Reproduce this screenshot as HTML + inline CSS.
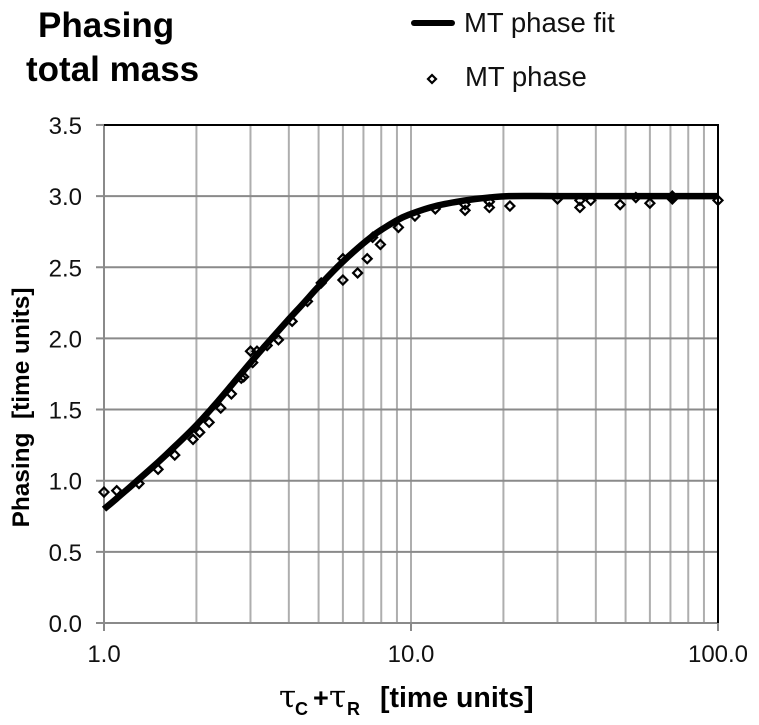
<!DOCTYPE html>
<html lang="en">
<head>
<meta charset="utf-8">
<title>Phasing total mass</title>
<style>
html,body{margin:0;padding:0;background:#fff;}
svg{display:block;font-family:"Liberation Sans",Arial,sans-serif;}
</style>
</head>
<body>
<svg id="chart" width="759" height="725" viewBox="0 0 759 725" xmlns="http://www.w3.org/2000/svg">
<rect x="0" y="0" width="759" height="725" fill="#fff"/>
<g id="grid"></g>
<g id="axes"></g>
<g id="points"></g>
<path id="fit" fill="none" stroke="#000" stroke-width="6.5" stroke-linejoin="round"/>
<g id="labels" fill="#111" font-size="24"></g>
<text x="38" y="37" font-size="35" font-weight="bold" fill="#000">Phasing</text>
<text x="26" y="81" font-size="35" font-weight="bold" fill="#000">total mass</text>
<g>
  <line x1="414" y1="23" x2="452" y2="23" stroke="#000" stroke-width="6" stroke-linecap="round"/>
  <text x="464" y="32" font-size="27.500" fill="#111">MT phase fit</text>
  <path d="M432 75L436 79L432 83L428 79Z" fill="#fff" stroke="#000" stroke-width="2.200"/>
  <text x="465" y="86" font-size="27.500" fill="#111">MT phase</text>
</g>
<text transform="translate(29,407.500) rotate(-90)" text-anchor="middle" font-size="24.400" font-weight="bold" fill="#000" xml:space="preserve">Phasing  [time units]</text>
<g fill="#000" font-weight="bold">
  <text x="279" y="707" font-size="31" font-weight="normal" font-family="'DejaVu Serif','Liberation Serif',serif">τ</text>
  <text x="295" y="715" font-size="18">C</text>
  <text x="313" y="707" font-size="27">+</text>
  <text x="329" y="707" font-size="31" font-weight="normal" font-family="'DejaVu Serif','Liberation Serif',serif">τ</text>
  <text x="347" y="715" font-size="18">R</text>
  <text x="380" y="707" font-size="28.500">[time units]</text>
</g>
</svg>
<script>
const xMajorTicks = [1, 10, 100];
const xGridTicks = [2,3,4,5,6,7,8,9,10,20,30,40,50,60,70,80,90];
const yTicks = [0,0.5,1,1.5,2,2.5,3,3.5];
const xTickLabels = ['1.0','10.0','100.0'];
const yTickLabels = ['0.0','0.5','1.0','1.5','2.0','2.5','3.0','3.5'];
const fitX = [1,1.1,1.26,1.5,1.7,2,2.3,2.6,3,3.5,4,4.5,5,6,7.5,9,10,12,15,18,21,30,50,100];
const fitY = [0.8,0.875,0.985,1.13,1.24,1.39,1.535,1.67,1.83,1.995,2.135,2.255,2.365,2.54,2.72,2.83,2.875,2.93,2.97,2.99,3,3,3,3];
const phaseX = [1,1.1,1.3,1.5,1.7,1.95,2.05,2.2,2.4,2.6,2.8,2.85,3.05,3,3.15,3.4,3.7,4.1,4.6,5.1,6,6,6.7,7.2,7.5,7.95,9.1,10.3,12,15,15,18,18,21,30,35.5,35.5,38.5,48,54,60,71,71,100];
const phaseY = [0.92,0.93,0.98,1.08,1.18,1.29,1.34,1.41,1.51,1.61,1.72,1.73,1.83,1.91,1.91,1.95,1.99,2.12,2.26,2.39,2.56,2.41,2.46,2.56,2.71,2.66,2.78,2.86,2.91,2.9,2.94,2.92,2.96,2.93,2.98,2.92,2.97,2.97,2.94,2.99,2.95,2.98,3,2.97];

const NS = 'http://www.w3.org/2000/svg';
const xScale = v => 104 + 307 * Math.log10(v);
const yScale = v => 623 - 142.3 * v;
function make(parent, tag, attrs) {
  const el = document.createElementNS(NS, tag);
  for (const k in attrs) el.setAttribute(k, attrs[k]);
  parent.appendChild(el);
  return el;
}
const grid = document.getElementById('grid');
const axes = document.getElementById('axes');
const labels = document.getElementById('labels');
const pts = document.getElementById('points');

xGridTicks.forEach(v => {
  const el = make(grid, 'line', {x1: xScale(v), x2: xScale(v), y1: yScale(3.5), y2: yScale(0), stroke: '#aeaeae', 'stroke-width': 2});
  
  
});
yTicks.forEach((v, i) => {
  const isTop = i === yTicks.length - 1;
  const el = make(grid, 'line', {x1: 96, x2: isTop ? 104 : xScale(100), y1: yScale(v), y2: yScale(v), stroke: '#8a8a8a', 'stroke-width': 2});
  
  
  const t = make(labels, 'text', {x: 82, y: yScale(v) + 9, 'text-anchor': 'end'});
  t.textContent = yTickLabels[i];
  
  
});
const left = make(axes, 'line', {x1: xScale(1), x2: xScale(1), y1: yScale(3.5), y2: yScale(0), stroke: '#8a8a8a', 'stroke-width': 2});


const top_ = make(axes, 'line', {x1: xScale(1), x2: xScale(100) + 1, y1: yScale(3.5), y2: yScale(3.5), stroke: '#000', 'stroke-width': 2});


const right = make(axes, 'line', {x1: xScale(100), x2: xScale(100), y1: yScale(3.5), y2: yScale(0), stroke: '#000', 'stroke-width': 2});


xMajorTicks.forEach((v, i) => {
  const el = make(axes, 'line', {x1: xScale(v), x2: xScale(v), y1: yScale(0), y2: yScale(0) + 8, stroke: '#8a8a8a', 'stroke-width': 2});
  
  
  const t = make(labels, 'text', {x: xScale(v), y: 662, 'text-anchor': 'middle'});
  t.textContent = xTickLabels[i];
  
  
});
phaseX.forEach((v, i) => {
  const cx = xScale(v), cy = yScale(phaseY[i]), r = 4.5;
  const p = make(pts, 'path', {d: `M${cx} ${cy - r}L${cx + r} ${cy}L${cx} ${cy + r}L${cx - r} ${cy}Z`, fill: 'none', stroke: '#000', 'stroke-width': 2.2});
  
  
});
const fitPts = fitX.map((v, i) => [xScale(v), yScale(fitY[i])]);
let fitD = 'M' + fitPts[0][0].toFixed(1) + ' ' + fitPts[0][1].toFixed(1);
for (let i = 0; i < fitPts.length - 1; i++) {
  const p0 = fitPts[Math.max(i - 1, 0)], p1 = fitPts[i], p2 = fitPts[i + 1], p3 = fitPts[Math.min(i + 2, fitPts.length - 1)];
  const c1x = p1[0] + (p2[0] - p0[0]) / 6, c1y = p1[1] + (p2[1] - p0[1]) / 6;
  const c2x = p2[0] - (p3[0] - p1[0]) / 6, c2y = p2[1] - (p3[1] - p1[1]) / 6;
  fitD += 'C' + [c1x, c1y, c2x, c2y, p2[0], p2[1]].map(n => n.toFixed(1)).join(' ');
}
document.getElementById('fit').setAttribute('d', fitD);
</script>
</body>
</html>
